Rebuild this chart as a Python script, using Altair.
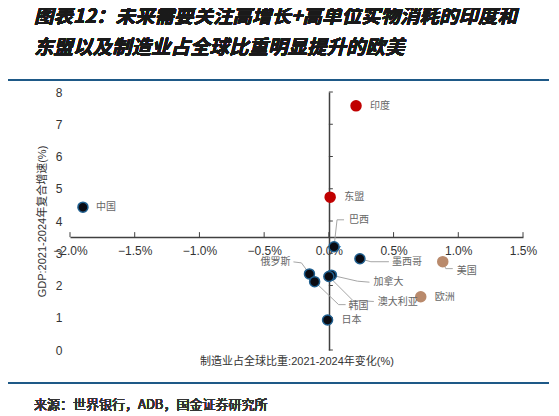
#!/usr/bin/env python3
"""Scatter: manufacturing share change vs GDP growth
"""
import altair as alt
import pandas as pd

OUTPUT_FILE = 'out.html'

countries = ['印度', '东盟', '中国', '巴西', '墨西哥', '美国',
             '加拿大', '澳大利亚', '俄罗斯', '韩国', '欧洲', '日本']
mfg_share_change = [0.21, 0.01, -1.90, 0.04, 0.24, 0.88,
                    0.02, 0.00, -0.15, -0.11, 0.71, -0.01]
gdp_cagr = [7.57, 4.74, 4.43, 3.20, 2.83, 2.74,
            2.32, 2.28, 2.36, 2.12, 1.65, 0.93]
groups = ['高增长', '高增长', '其他', '其他', '其他', '欧美',
          '其他', '其他', '其他', '其他', '欧美', '其他']
x_ticks = [-2.0, -1.5, -1.0, -0.5, 0.0, 0.5, 1.0, 1.5]
y_ticks = [0, 1, 2, 3, 4, 5, 6, 7, 8]
title_lines = ['图表12：未来需要关注高增长+高单位实物消耗的印度和',
               '东盟以及制造业占全球比重明显提升的欧美']
source_text = '来源：世界银行，ADB，国金证券研究所'

W, H = 453, 258
X_DOM, Y_DOM = [-2.0, 1.5], [0, 8]
X_CROSS = 3.5
SX = (X_DOM[1] - X_DOM[0]) / W     # data units per pixel
SY = (Y_DOM[1] - Y_DOM[0]) / H

# label offsets (pixels from the point) and leader elbows
label_off = {
    '印度': (14, 0), '东盟': (14, 0), '中国': (13, 0), '巴西': (15, -27),
    '墨西哥': (32, 3), '美国': (14, 9), '加拿大': (42, 7),
    '澳大利亚': (49, 26), '俄罗斯': (-19, -12), '韩国': (34, 24),
    '欧洲': (14, 0), '日本': (14, 0),
}
leaders = {
    '巴西': [(0, 0), (3, -27), (10, -27)],
    '墨西哥': [(0, 0), (11, 3), (29, 3)],
    '美国': [(0, 0), (3, 7), (10, 7)],
    '加拿大': [(0, 0), (26, 6), (38, 7)],
    '澳大利亚': [(0, 0), (24, 24), (45, 25)],
    '俄罗斯': [(0, 0), (-8, -11), (-16, -12)],
    '韩国': [(0, 0), (24, 23), (31, 23)],
}

pts = pd.DataFrame({'country': countries, 'x': mfg_share_change,
                    'y': gdp_cagr, 'group': groups})
pts['lx'] = [x + label_off[c][0] * SX for c, x in zip(countries, mfg_share_change)]
pts['ly'] = [y - label_off[c][1] * SY for c, y in zip(countries, gdp_cagr)]
pts['align'] = ['right' if label_off[c][0] < 0 else 'left' for c in countries]

rows = []
for c, x, y in zip(countries, mfg_share_change, gdp_cagr):
    for i, (ox, oy) in enumerate(leaders.get(c, [])):
        rows.append({'country': c, 'o': i, 'x': x + ox * SX, 'y': y - oy * SY})
lead = pd.DataFrame(rows)

xt = pd.DataFrame({'x': x_ticks, 'y': X_CROSS, 'y2': X_CROSS + 5 * SY})
yt = pd.DataFrame({'y': y_ticks, 'x': 0.0, 'x2': 4 * SX})

LBL_FONT = 'Liberation Sans, Noto Sans CJK SC'
CJK = 'Noto Sans CJK SC'

xscale = alt.Scale(domain=X_DOM, nice=False, zero=False)
yscale = alt.Scale(domain=Y_DOM, nice=False)

X_AX = alt.Axis(
    values=x_ticks, labelExpr="format(datum.value, '.1f') + '%'",
    orient='bottom', offset=-113, ticks=False, grid=False,
    labelFlush=False, labelOverlap=False,
    domainColor='#404040', domainWidth=1.5, labelPadding=8,
    labelFont=LBL_FONT, labelFontSize=12, labelColor='#333333',
    title='制造业占全球比重:2021-2024年变化(%)', titleFont=LBL_FONT,
    titleFontSize=11, titleFontWeight='normal', titleColor='#333333',
    titleY=124, titleBaseline='middle',
)
Y_AX = alt.Axis(
    values=y_ticks, orient='left', offset=-259, ticks=False, tickSize=0,
    grid=False, labelFlush=False, labelOverlap=False,
    domainColor='#404040', domainWidth=1.5, labelPadding=267,
    labelFont=LBL_FONT, labelFontSize=12, labelColor='#333333',
    title='GDP:2021-2024年复合增速(%)', titleFont=LBL_FONT,
    titleFontSize=11, titleFontWeight='normal', titleColor='#333333',
    titleX=-287, titleY=H / 2, titleAlign='center', titleBaseline='middle',
    titleAngle=270,
)


def xenc(field):
    return alt.X(field, type='quantitative', scale=xscale, axis=X_AX)


def yenc(field):
    return alt.Y(field, type='quantitative', scale=yscale, axis=Y_AX)


xtick_rules = alt.Chart(xt).mark_rule(color='#404040', strokeWidth=1).encode(
    x=xenc('x'), y=yenc('y'), y2='y2:Q')
ytick_rules = alt.Chart(yt).mark_rule(color='#404040', strokeWidth=1).encode(
    y=yenc('y'), x=xenc('x'), x2='x2:Q')

leader_lines = alt.Chart(lead).mark_line(color='#a6a6a6', strokeWidth=1).encode(
    x=xenc('x'), y=yenc('y'), detail='country:N', order='o:Q')

dots = alt.Chart(pts).mark_point(
    filled=True, size=100, strokeWidth=1.5, opacity=1
).encode(
    x=xenc('x'), y=yenc('y'),
    color=alt.Color('group:N', legend=None, scale=alt.Scale(
        domain=['高增长', '欧美', '其他'], range=['#c00000', '#b98a6c', '#0b0b12'])),
    stroke=alt.Stroke('group:N', legend=None, scale=alt.Scale(
        domain=['高增长', '欧美', '其他'], range=['#c00000', '#b98a6c', '#1f5f8f'])),
)


def labels(align):
    return alt.Chart(pts).transform_filter(
        alt.datum.align == align
    ).mark_text(align=align, baseline='middle', font=CJK, fontSize=10,
                color='#666666').encode(
        x=xenc('lx'), y=yenc('ly'), text='country:N')


def rule_at(y):
    return alt.Chart(pts).mark_rule(color='#1f5a87', strokeWidth=1.5).encode(
        x=alt.value(-65), x2=alt.value(479), y=alt.value(y))


def text_at(txt, y, **kw):
    return alt.Chart(pts).mark_text(
        align='left', baseline='middle', font=CJK, **kw
    ).encode(x=alt.value(-36), y=alt.value(y), text=alt.value(txt))


title1 = text_at(title_lines[0], -75, fontSize=19.5, fontWeight='bold',
                 fontStyle='italic', color='#1a1a1a')
title2 = text_at(title_lines[1], -44, fontSize=19.5, fontWeight='bold',
                 fontStyle='italic', color='#1a1a1a')
source = text_at(source_text, 313, fontSize=13, color='#333333')

chart = alt.layer(
    xtick_rules, ytick_rules, leader_lines, dots,
    labels('left'), labels('right'), rule_at(-12), rule_at(291),
    title1, title2, source,
).properties(
    width=W, height=H,
    autosize=alt.AutoSizeParams(type='none'),
    padding={'left': 62, 'top': 84, 'right': 28, 'bottom': 65},
).configure_view(stroke=None)

chart.save(OUTPUT_FILE, embed_options={'renderer': 'svg', 'actions': False})
